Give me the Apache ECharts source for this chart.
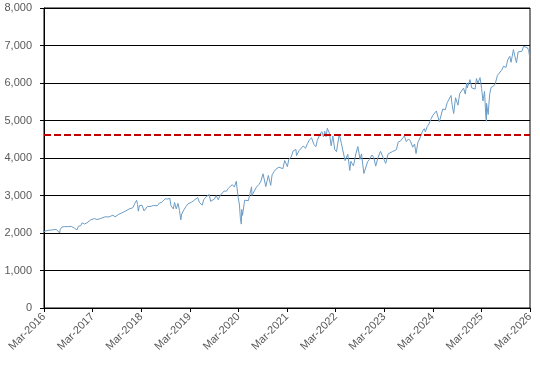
<!DOCTYPE html>
<html><head><meta charset="utf-8">
<script src="https://cdn.jsdelivr.net/npm/echarts@6/dist/echarts.min.js"></script>
<style>html,body{margin:0;padding:0;background:#fff}#c{width:540px;height:367px}</style>
</head><body><div id="c"></div>
<script>
// Dates and index values
const dates = [
"2016-03-01","2016-03-15","2016-04-01","2016-04-15","2016-05-02","2016-05-16","2016-06-01","2016-06-15","2016-06-27","2016-07-01","2016-07-15","2016-08-01","2016-08-15","2016-09-01","2016-09-12","2016-09-22","2016-10-03","2016-10-17","2016-11-04","2016-11-15","2016-12-01","2016-12-13","2016-12-30",
"2017-01-03","2017-01-17","2017-02-01","2017-02-15","2017-03-01","2017-03-15","2017-04-03","2017-04-13","2017-05-01","2017-05-16","2017-06-01","2017-06-15","2017-07-03","2017-07-17","2017-08-01","2017-08-17","2017-09-01","2017-09-15","2017-10-02","2017-10-16","2017-11-01","2017-11-15","2017-12-01","2017-12-15","2017-12-29",
"2018-01-12","2018-01-26","2018-02-02","2018-02-08","2018-02-16","2018-02-26","2018-03-08","2018-03-13","2018-03-23","2018-04-02","2018-04-17","2018-05-01","2018-05-15","2018-06-01","2018-06-15","2018-07-02","2018-07-16","2018-08-01","2018-08-15","2018-08-29","2018-09-14","2018-09-20","2018-10-03","2018-10-11","2018-10-29","2018-11-07","2018-11-20","2018-12-03","2018-12-14","2018-12-24","2018-12-31",
"2019-01-15","2019-02-01","2019-02-15","2019-03-01","2019-03-15","2019-04-01","2019-04-15","2019-04-30","2019-05-13","2019-06-03","2019-06-14","2019-07-01","2019-07-26","2019-08-05","2019-08-15","2019-09-03","2019-09-16","2019-10-02","2019-10-15","2019-11-01","2019-11-15","2019-12-02","2019-12-16","2019-12-31",
"2020-01-15","2020-01-31","2020-02-14","2020-02-19","2020-02-28","2020-03-09","2020-03-16","2020-03-23","2020-03-26","2020-04-01","2020-04-17","2020-05-01","2020-05-15","2020-06-08","2020-06-11","2020-06-26","2020-07-15","2020-08-03","2020-08-17","2020-09-02","2020-09-23","2020-10-12","2020-10-30","2020-11-09","2020-11-24","2020-12-08","2020-12-31",
"2021-01-15","2021-01-29","2021-02-12","2021-03-04","2021-03-15","2021-04-01","2021-04-16","2021-05-07","2021-05-12","2021-06-01","2021-06-15","2021-07-01","2021-07-19","2021-08-02","2021-08-16","2021-09-02","2021-09-20","2021-10-04","2021-10-15","2021-11-01","2021-11-18","2021-11-30","2021-12-10","2021-12-20","2021-12-29",
"2022-01-03","2022-01-14","2022-01-27","2022-02-09","2022-02-23","2022-03-08","2022-03-29","2022-04-14","2022-04-29","2022-05-12","2022-05-20","2022-06-01","2022-06-16","2022-06-24","2022-07-14","2022-08-01","2022-08-16","2022-09-01","2022-09-12","2022-09-30","2022-10-12","2022-10-28","2022-11-10","2022-11-30","2022-12-13","2022-12-28",
"2023-01-13","2023-02-02","2023-02-15","2023-03-01","2023-03-13","2023-03-31","2023-04-14","2023-05-01","2023-05-15","2023-06-01","2023-06-15","2023-07-03","2023-07-31","2023-08-15","2023-08-31","2023-09-15","2023-10-02","2023-10-16","2023-10-27","2023-11-10","2023-11-30","2023-12-15","2023-12-28",
"2024-01-05","2024-01-19","2024-02-01","2024-02-15","2024-03-01","2024-03-15","2024-03-28","2024-04-19","2024-05-01","2024-05-15","2024-06-03","2024-06-17","2024-07-16","2024-07-24","2024-08-05","2024-08-19","2024-09-06","2024-09-19","2024-10-01","2024-10-18","2024-10-31","2024-11-11","2024-11-15","2024-12-06","2024-12-18","2024-12-31",
"2025-01-13","2025-01-23","2025-02-03","2025-02-19","2025-03-03","2025-03-13","2025-03-25","2025-04-04","2025-04-08","2025-04-09","2025-04-21","2025-05-02","2025-05-13","2025-05-30","2025-06-13","2025-06-30","2025-07-15","2025-07-31","2025-08-15","2025-09-02","2025-09-15","2025-10-01","2025-10-10","2025-10-28","2025-11-07","2025-11-20","2025-12-02","2025-12-15","2025-12-31",
"2026-01-12","2026-01-27","2026-02-10","2026-02-20","2026-02-28"
];
const values = [
2040,2030,2072,2081,2081,2066,2099,2071,2000,2102,2161,2170,2190,2170,2127,2177,2161,2126,2085,2180,2191,2271,2239,
2258,2268,2280,2350,2396,2385,2359,2329,2388,2400,2430,2433,2429,2460,2476,2430,2477,2500,2529,2557,2579,2565,2642,2676,2674,
2786,2873,2762,2581,2732,2780,2738,2765,2588,2582,2706,2655,2711,2735,2780,2726,2798,2813,2818,2914,2905,2930,2925,2728,2641,2813,2641,2790,2600,2351,2507,
2610,2706,2775,2803,2822,2867,2907,2946,2812,2744,2887,2964,3026,2845,2848,2906,2997,2887,2995,3066,3120,3113,3191,3231,
3289,3226,3380,3386,2954,2746,2386,2237,2630,2470,2875,2830,2863,3232,3002,3009,3227,3295,3381,3580,3237,3535,3270,3550,3635,3702,3756,
3768,3714,3934,3768,3968,4020,4185,4232,4063,4202,4246,4320,4258,4387,4479,4537,4358,4300,4471,4613,4704,4567,4712,4568,4793,
4797,4663,4326,4587,4225,4170,4632,4392,4132,3930,3901,4101,3667,3912,3790,4118,4305,3966,4110,3586,3577,3901,3956,4080,4019,3783,
3999,4179,4147,3951,3855,4109,4137,4167,4136,4221,4425,4455,4589,4437,4508,4450,4288,4373,4117,4415,4568,4719,4783,
4697,4840,4906,5030,5137,5117,5254,4967,5018,5308,5283,5473,5667,5427,5186,5608,5408,5713,5708,5864,5705,6001,5870,6090,5872,5881,
5836,6119,5994,6144,5849,5521,5777,5074,4982,5457,5158,5686,5886,5912,5977,6205,6244,6339,6449,6415,6615,6711,6552,6890,6728,6538,6829,6816,6845,
6977,6978,6942,6860,6670
];
const yTicks = [0,1000,2000,3000,4000,5000,6000,7000,8000];
const xTickLabels = ["Mar-2016","Mar-2017","Mar-2018","Mar-2019","Mar-2020","Mar-2021","Mar-2022","Mar-2023","Mar-2024","Mar-2025","Mar-2026"];
const refLevel = 4620;

const base = Date.UTC(2016,2,1);
function yearsSince(s){const p=s.split('-').map(Number);return (Date.UTC(p[0],p[1]-1,p[2])-base)/(365.25*86400000);}
const seriesData = dates.map((d,i)=>[yearsSince(d), values[i]]);

const chart = echarts.init(document.getElementById('c'));
const lab = {color:'#595959', fontFamily:'Liberation Sans, Arial, sans-serif', fontSize:11};
chart.setOption({
  animation:false,
  grid:{left:44,right:10,top:8,bottom:59,show:true,borderColor:'#000',borderWidth:1},
  xAxis:{type:'value',min:0,max:10,interval:1,
    axisLine:{lineStyle:{color:'#000',width:1}},
    axisTick:{show:true,length:4,lineStyle:{color:'#000'}},
    splitLine:{show:false},
    axisLabel:Object.assign({rotate:45,margin:7,showMaxLabel:true,showMinLabel:true,formatter:v=>xTickLabels[Math.round(v)]||''},lab)},
  yAxis:{type:'value',min:yTicks[0],max:yTicks[yTicks.length-1],interval:1000,
    axisLine:{show:true,lineStyle:{color:'#000',width:1}},
    axisTick:{show:true,length:4,lineStyle:{color:'#000'}},
    splitLine:{show:true,lineStyle:{color:'#000',width:1}},
    axisLabel:Object.assign({margin:12,formatter:v=>v.toLocaleString('en-US')},lab)},
  series:[{type:'line',data:seriesData,showSymbol:false,
    lineStyle:{color:'#6b9cc6',width:1},
    markLine:{silent:true,symbol:'none',label:{show:false},
      lineStyle:{color:'#c00000',type:[7,3],width:2},
      data:[{yAxis:refLevel}]}}]
});
</script></body></html>
